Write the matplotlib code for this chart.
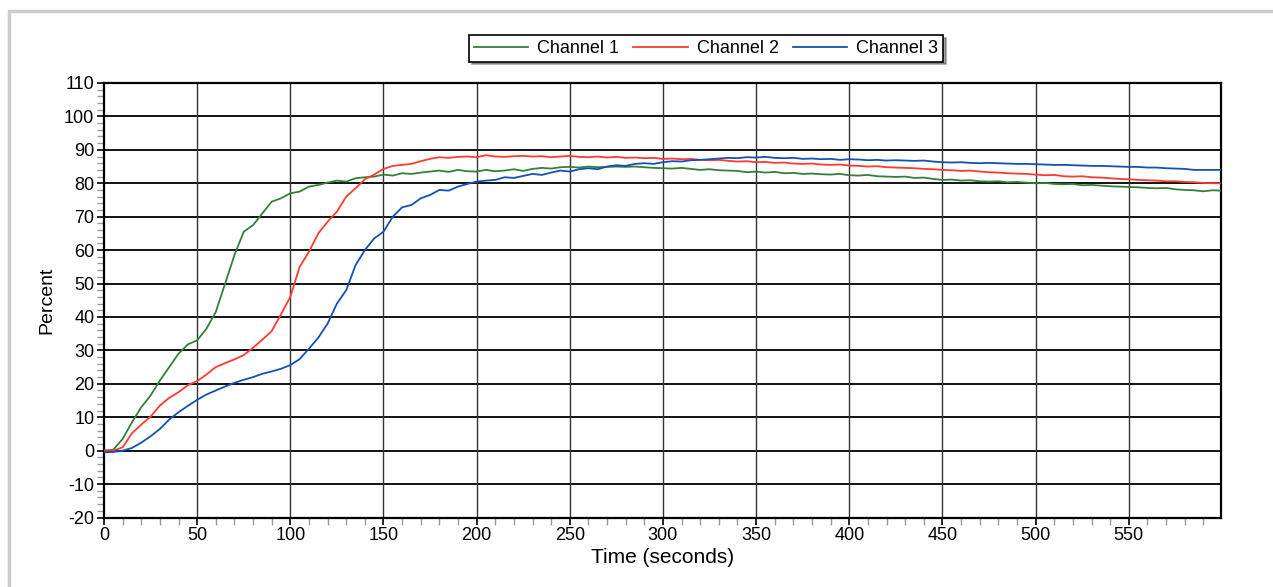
import numpy as np
import matplotlib
matplotlib.use("Agg")
import matplotlib.pyplot as plt
from matplotlib.patches import Rectangle
from matplotlib.ticker import MultipleLocator

plt.rcParams['font.family'] = ['Liberation Sans', 'DejaVu Sans']
plt.rcParams['axes.unicode_minus'] = False

time_s = list(range(0, 600, 5)) + [599]

channel_1 = [0.0, 0.3, 3.5, 8.5, 13.0, 16.5, 21.0, 25.0, 29.0, 31.8,
             33.0, 36.5, 41.5, 50.0, 58.5, 65.5, 67.5, 71.0, 74.5, 75.5,
             77.0, 77.5, 79.0, 79.5, 80.2, 80.8, 80.5, 81.5, 81.8, 82.0,
             82.6, 82.3, 83.0, 82.8, 83.2, 83.5, 83.8, 83.4, 84.0, 83.6,
             83.5, 84.0, 83.6, 83.8, 84.2, 83.7, 84.3, 84.6, 84.4, 84.8,
             84.9, 84.7, 85.0, 84.8, 84.9, 85.0, 84.9, 85.0, 84.8, 84.6,
             84.5, 84.4, 84.6, 84.3, 84.0, 84.2, 83.9, 83.8, 83.7, 83.3,
             83.5, 83.2, 83.4, 83.0, 83.1, 82.8, 82.9, 82.7, 82.6, 82.8,
             82.4, 82.3, 82.5, 82.1, 82.0, 81.9, 82.0, 81.6, 81.7, 81.3,
             81.0, 81.1, 80.8, 80.9, 80.6, 80.5, 80.6, 80.3, 80.4, 80.2,
             80.0, 80.1, 79.8, 79.7, 79.8, 79.4, 79.5, 79.3, 79.1, 79.0,
             78.9, 78.8, 78.6, 78.5, 78.6, 78.2, 78.0, 77.9, 77.6, 77.9,
             77.8]

channel_2 = [0.0, 0.0, 1.0, 5.2, 7.8, 10.2, 13.5, 15.8, 17.5, 19.6,
             20.8, 22.8, 25.0, 26.2, 27.3, 28.6, 30.8, 33.2, 35.8, 40.8,
             46.0, 55.0, 59.5, 65.0, 68.5, 71.5, 76.0, 78.5, 81.2, 82.6,
             84.3, 85.2, 85.5, 85.8, 86.6, 87.3, 87.8, 87.6, 87.9, 88.0,
             87.8, 88.4, 88.0, 87.9, 88.1, 88.2, 88.0, 88.1, 87.8, 88.0,
             88.2, 87.9, 87.8, 88.0, 87.7, 87.9, 87.6, 87.7, 87.5, 87.6,
             87.3, 87.4, 87.2, 87.3, 87.0, 86.9, 87.0, 86.7, 86.5, 86.6,
             86.3, 86.4, 86.1, 86.2, 85.9, 85.8, 85.9, 85.6, 85.5, 85.6,
             85.3, 85.2, 85.0, 85.1, 84.8, 84.7, 84.6, 84.5, 84.3, 84.2,
             84.0, 83.9, 83.7, 83.8, 83.5, 83.3, 83.2, 83.0, 82.9, 82.8,
             82.6, 82.4, 82.5, 82.1, 82.0, 82.1, 81.8, 81.7, 81.5, 81.3,
             81.2, 81.0, 80.9, 80.8, 80.6, 80.6, 80.4, 80.3, 80.1, 80.0,
             80.0]

channel_3 = [-0.5, -0.4, 0.0, 0.8, 2.4, 4.3, 6.5, 9.3, 11.5, 13.4,
             15.2, 16.8, 18.0, 19.2, 20.3, 21.2, 22.0, 23.0, 23.7, 24.5,
             25.6, 27.4, 30.5, 33.8, 38.0, 44.0, 48.0, 55.5, 60.0, 63.5,
             65.5, 70.0, 72.8, 73.5, 75.5, 76.5, 78.0, 77.8, 79.0, 79.8,
             80.5, 80.8, 81.0, 81.8, 81.6, 82.2, 82.8, 82.5, 83.2, 83.8,
             83.5, 84.2, 84.5, 84.2, 85.0, 85.4, 85.2, 85.8, 86.0, 85.8,
             86.3, 86.6, 86.5, 86.9, 87.0, 87.2, 87.4, 87.6, 87.5, 87.8,
             87.7, 87.9, 87.6, 87.5, 87.6, 87.3, 87.4, 87.2, 87.3, 87.0,
             87.2, 87.1, 86.9, 87.0, 86.8, 86.9, 86.8, 86.7, 86.8, 86.5,
             86.3, 86.2, 86.3, 86.1, 86.0, 86.1, 86.0, 85.9, 85.8, 85.8,
             85.7, 85.6, 85.5, 85.5, 85.4, 85.3, 85.2, 85.2, 85.1, 85.0,
             84.9, 84.9, 84.7, 84.7, 84.5, 84.4, 84.3, 84.0, 84.0, 84.0,
             84.0]

series_labels = ["Channel 1", "Channel 2", "Channel 3"]
series_colors = ["#34803a", "#ff3b2f", "#1352b0"]

fig = plt.figure(figsize=(12.73, 5.87), dpi=100)
ax = fig.add_axes([104/1273, 1 - 517.5/587, (1221-104)/1273, (517.5-83)/587])

for vals, lab, col in zip([channel_1, channel_2, channel_3], series_labels, series_colors):
    ax.plot(time_s, vals, color=col, lw=1.3, label=lab, zorder=3)

ax.set_xlim(0, 599.5)
ax.set_ylim(-20, 110)
ax.xaxis.set_major_locator(MultipleLocator(50))
ax.xaxis.set_minor_locator(MultipleLocator(10))
ax.yaxis.set_major_locator(MultipleLocator(10))
ax.yaxis.set_minor_locator(MultipleLocator(2))
ax.set_xticks([t for t in range(0, 600, 50)])

for yv in range(-10, 110, 10):
    ax.axhline(yv, color='black', lw=1.3, zorder=1)
for xv in range(50, 600, 50):
    ax.axvline(xv, color='#333333', lw=1.0, zorder=1)

for s in ax.spines.values():
    s.set_linewidth(1.6)
    s.set_color('black')

ax.tick_params(which='major', direction='out', length=5, width=1.2, color='black',
               labelsize=13, pad=2)
ax.tick_params(which='minor', direction='out', length=5, width=1.0, color='#999999')

ax.set_xlabel("Time (seconds)", fontsize=15, labelpad=3)
ax.set_ylabel("Percent", fontsize=14, labelpad=6)

leg = fig.legend(loc='center', bbox_to_anchor=(706/1273, 1 - 48.5/587), ncol=3,
                 fontsize=13, frameon=True, fancybox=False, shadow=True,
                 handlelength=3.0, handletextpad=0.5, columnspacing=0.8,
                 borderpad=0.25)
leg.get_frame().set_edgecolor('black')
leg.get_frame().set_linewidth(1.2)

fig.patches.append(Rectangle((9/1273, -0.05), 1.1, 1 - 11/587 + 0.05,
                             transform=fig.transFigure, fill=False,
                             edgecolor='#cccccc', lw=2.5))

fig.savefig("out.png", dpi=100)
